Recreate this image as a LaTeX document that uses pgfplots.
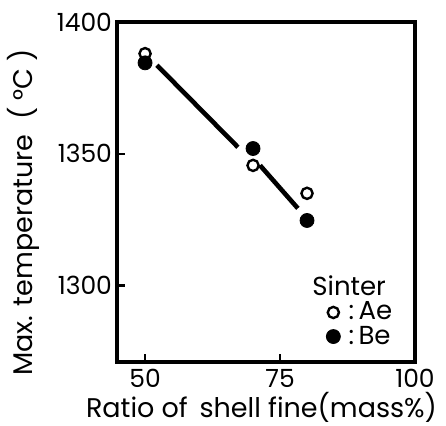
\documentclass[border=0pt]{standalone}
\usepackage{fontspec}
\setmainfont{Poppins}
\usepackage{pgfplots}
\pgfplotsset{compat=1.18}
\begin{document}
\begin{tikzpicture}
\useasboundingbox (-58.5pt,-31.5pt) rectangle (164.5pt,181pt);
\begin{axis}[
  at={(0,0)}, anchor=south west,
  width=149pt, height=170pt, scale only axis,
  xmin=44.8, xmax=100, ymin=1271, ymax=1400,
  xtick={50,75,100}, ytick={1300,1350,1400},
  xtick pos=left, ytick pos=left, tick align=inside,
  major tick length=4pt,
  axis line style={line width=1.6pt},
  every tick/.style={line width=1.2pt, black},
  /pgf/number format/assume math mode=true,
  /pgf/number format/1000 sep={},
  tick label style={font=\fontsize{12.5}{14}\selectfont},
  label style={font=\fontsize{13.5}{15}\selectfont},
  xlabel={Ratio of \,shell fine(mass\%)},
  ylabel={Max. temperature \;( °C )},
  xlabel style={at={(rel axis cs:0.485,0)}, anchor=north, yshift=-11.5pt},
  ylabel style={at={(rel axis cs:0,0.44)}, anchor=south, yshift=35pt},
  yticklabel style={xshift=1pt},
  legend style={draw=none, fill=none, at={(0.945,0.025)}, anchor=south east,
    font=\fontsize{13}{14}\selectfont, row sep=-2.5pt, inner sep=1pt},
  legend cell align=left,
  legend image code/.code={\draw[#1] (0pt,0pt) plot coordinates {(0pt,0pt)};},
  clip=false,
]
\addlegendimage{empty legend}
\addlegendentry{\hspace{-16pt}Sinter}
\addlegendimage{only marks, mark=o, mark size=2.8pt, black, line width=1.2pt}
\addlegendentry{\,:\,Ae}
\addlegendimage{only marks, mark=*, mark size=3.5pt, black}
\addlegendentry{\,:\,Be}
\addplot[black, line width=2.3pt, forget plot] coordinates {(52.2,1383.6) (67.2,1352.5)};
\addplot[black, line width=2.3pt, forget plot] coordinates {(71.3,1345.6) (78.3,1329.3)};
\addplot[only marks, mark=*, mark size=3.5pt, black, forget plot] coordinates {(50,1384.5) (70,1352) (80,1324.7)};
\addplot[only marks, mark=o, mark size=2.8pt, black, line width=1.2pt, mark options={fill=white}, forget plot] coordinates {(50,1388) (70,1345.6) (80,1335)};
\end{axis}
\end{tikzpicture}
\end{document}
